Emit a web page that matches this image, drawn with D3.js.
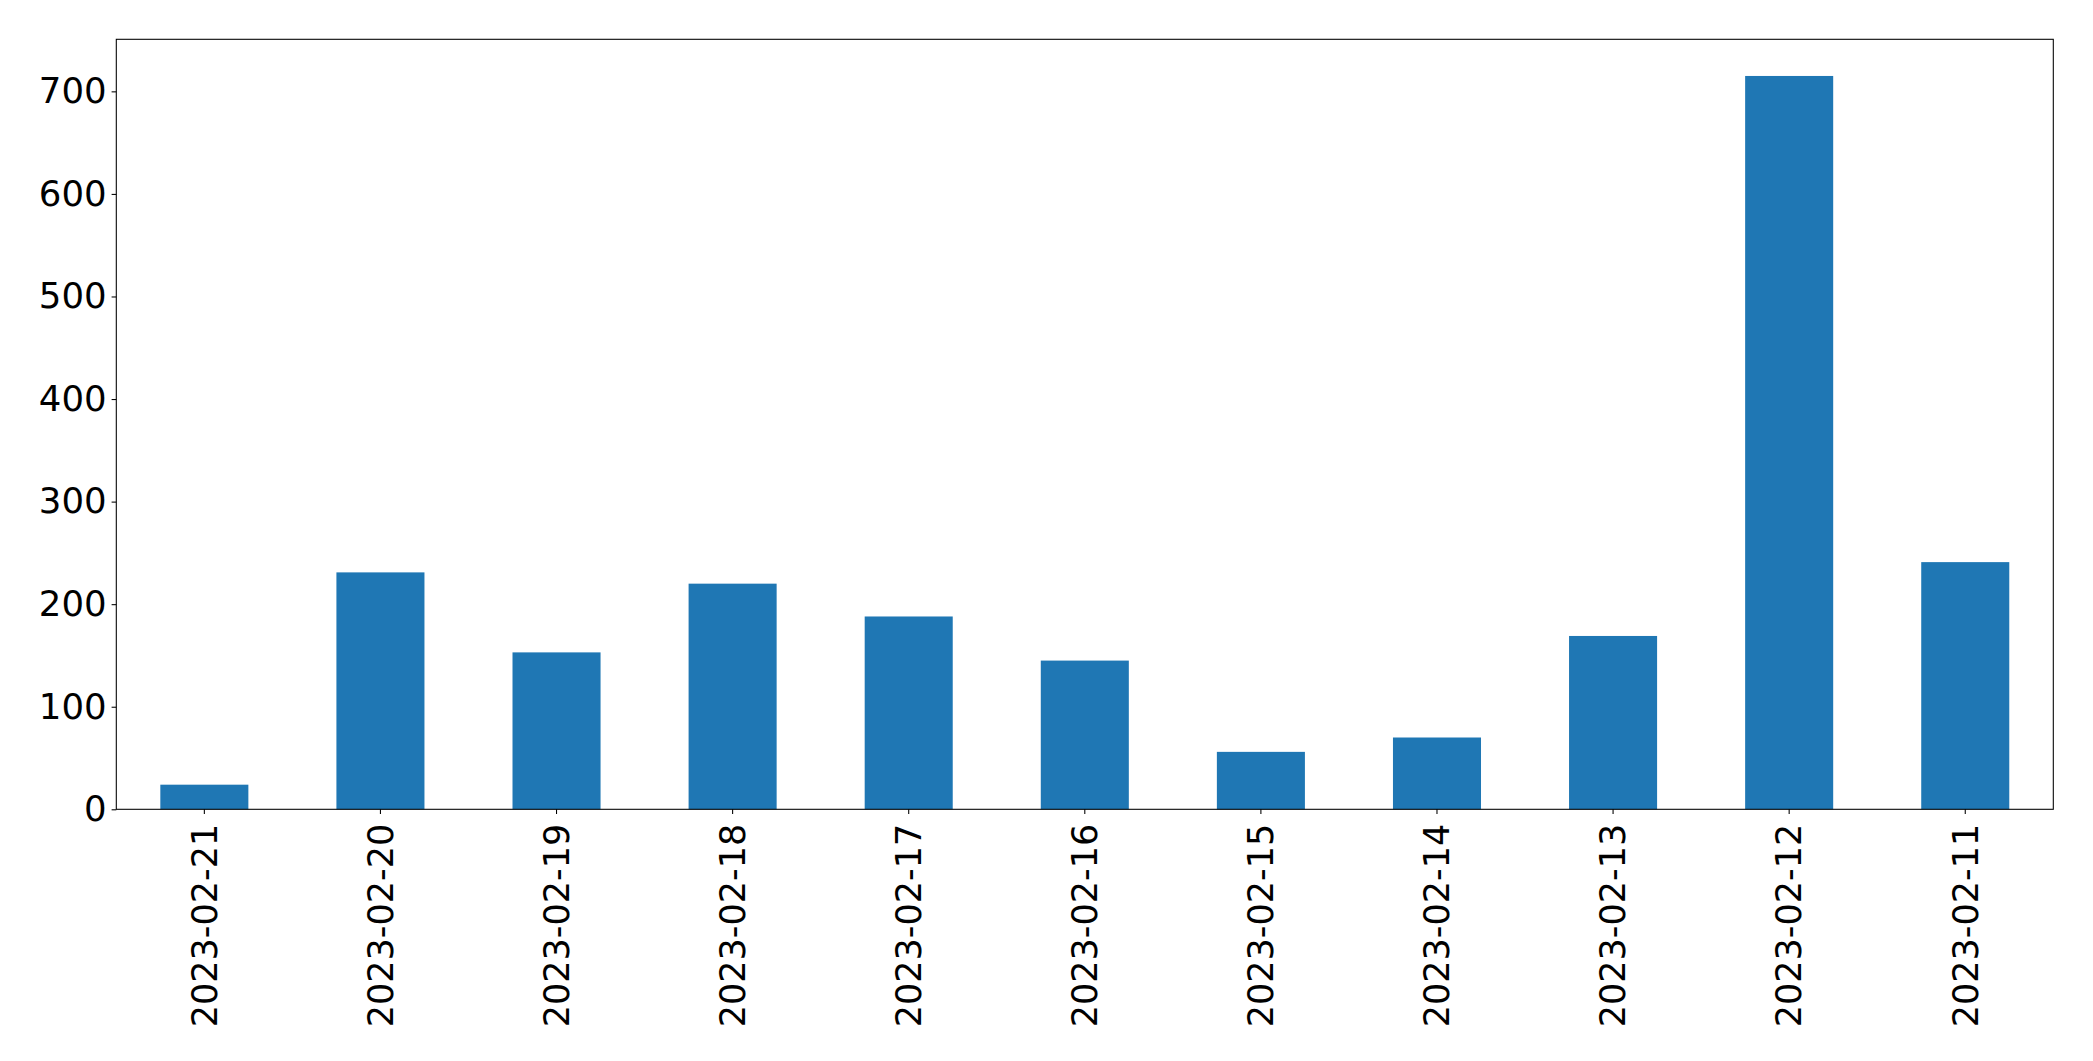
<!DOCTYPE html>
<html>
<head>
<meta charset="utf-8">
<script src="https://cdn.jsdelivr.net/npm/d3@7"></script>
<style>
    body { margin: 0; background: #fff; }
    text { font-family: "DejaVu Sans", sans-serif; }
</style>
</head>
<body>
<svg id="chart" width="2093" height="1061"></svg>
<script>
const days = ["2023-02-21", "2023-02-20", "2023-02-19", "2023-02-18", "2023-02-17", "2023-02-16",
    "2023-02-15", "2023-02-14", "2023-02-13", "2023-02-12", "2023-02-11"];
const counts = [24, 231, 153, 220, 188, 145, 56, 70, 169, 715, 241];
const yTicks = [0, 100, 200, 300, 400, 500, 600, 700];

window.onload = () => {
    let svg = d3.select("#chart");
    let left = 116.3, right = 2053.3, top = 39.3, bottom = 809.3;

    let x = d3.scaleBand()
    .domain(days)
    .range([left, right])
    .paddingInner(0.5)
    .paddingOuter(0.25);

    let y = d3.scaleLinear()
    .domain([0, d3.max(counts) * 1.05])
    .range([bottom, top]);

    svg.selectAll(".bar")
    .data(days)
    .enter()
    .append("rect")
    .attr("x", d => x(d))
    .attr("y", (d, i) => y(counts[i]))
    .attr("width", x.bandwidth())
    .attr("height", (d, i) => bottom - y(counts[i]))
    .attr("fill", "#1f77b4");

    let yAxis = svg.append("g")
    .attr("transform", `translate(${left},0)`)
    .call(d3.axisLeft(y).tickValues(yTicks).tickSize(4.7).tickPadding(5));
    yAxis.select(".domain").remove();
    yAxis.selectAll("line").attr("stroke", "#000").attr("stroke-width", 1.07);
    yAxis.selectAll("text").attr("font-size", "35.5px").attr("fill", "#000")
    .attr("font-family", "DejaVu Sans");

    let xAxis = svg.append("g")
    .attr("transform", `translate(0,${bottom})`)
    .call(d3.axisBottom(x).tickSize(4.7));
    xAxis.select(".domain").remove();
    xAxis.selectAll("line").attr("stroke", "#000").attr("stroke-width", 1.07);
    xAxis.selectAll("text")
    .attr("font-size", "35px")
    .attr("fill", "#000")
    .attr("font-family", "DejaVu Sans")
    .attr("text-anchor", "end")
    .attr("dy", "0.35em")
    .attr("x", 0)
    .attr("y", 0)
    .attr("transform", "translate(0,14.5) rotate(-90)");

    svg.append("rect")
    .attr("x", left)
    .attr("y", top)
    .attr("width", right - left)
    .attr("height", bottom - top)
    .attr("fill", "none")
    .attr("stroke", "#000")
    .attr("stroke-width", 1.07);
}
</script>
</body>
</html>
